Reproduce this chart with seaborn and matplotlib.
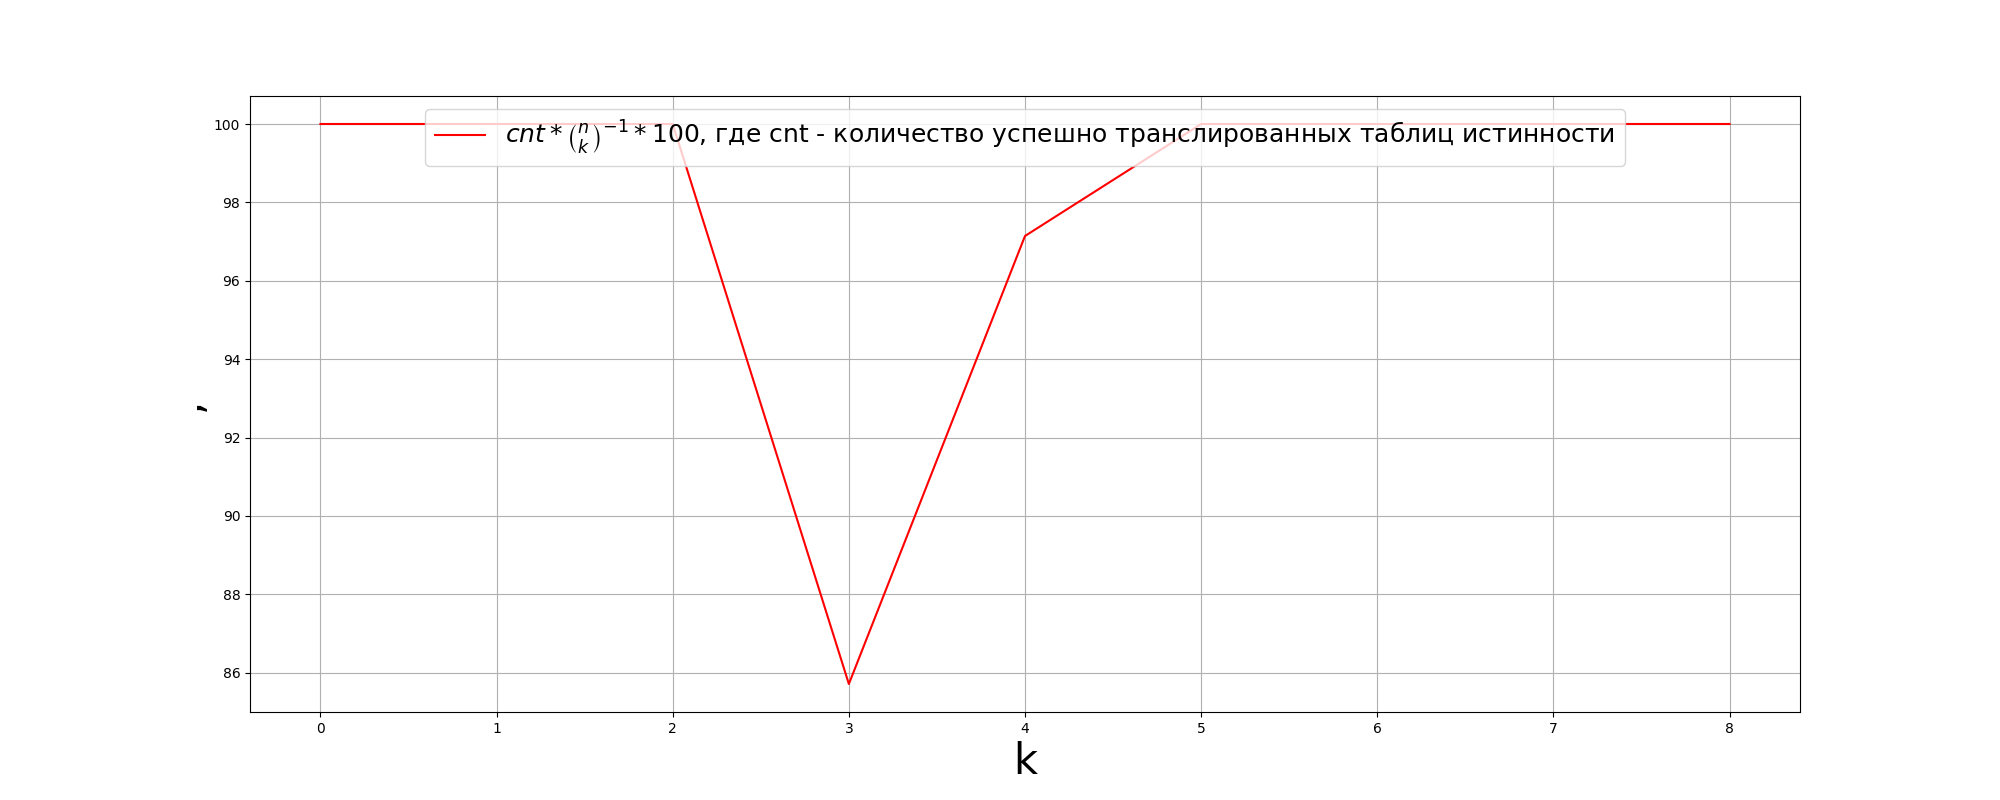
import matplotlib
matplotlib.use("Agg")
import matplotlib.pyplot as plt
import seaborn as sns
import pandas as pd

k_values = [0, 1, 2, 3, 4, 5, 6, 7, 8]
percent = [100.0, 100.0, 100.0, 85.714, 97.143, 100.0, 100.0, 100.0, 100.0]
legend_label = r"$cnt * \binom{n}{k}^{-1} * 100$, где cnt - количество успешно транслированных таблиц истинности"

df = pd.DataFrame({"k": k_values, "p": percent})

fig, ax = plt.subplots(figsize=(20, 8), dpi=100)
sns.lineplot(data=df, x="k", y="p", color="red", ax=ax, label=legend_label)
ax.grid(True)
ax.set_xlabel("k", fontsize=30)
ax.set_ylabel(",", fontsize=30)
ax.legend(loc="upper center", fontsize=18)
fig.savefig("out.png", dpi=100)
